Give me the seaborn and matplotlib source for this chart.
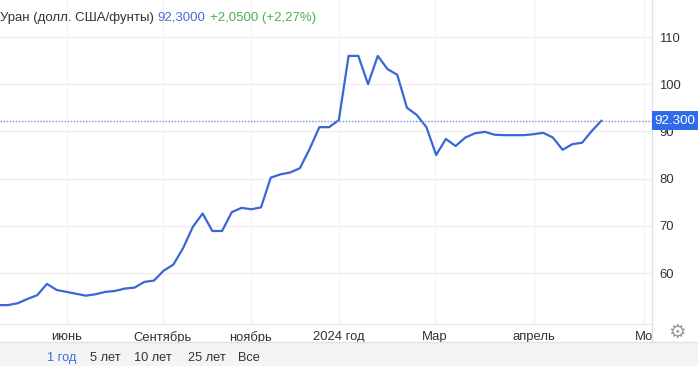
import matplotlib
matplotlib.use("Agg")
import matplotlib.pyplot as plt
from matplotlib.lines import Line2D
from matplotlib.patches import Rectangle
import seaborn as sns
import pandas as pd

# ---- data (weekly points) ----
prices = [53.2, 53.2, 53.6, 54.5, 55.3, 57.7, 56.4, 56.0, 55.6, 55.2,
          55.5, 56.0, 56.2, 56.7, 56.9, 58.1, 58.4, 60.5, 61.8, 65.3,
          69.8, 72.6, 68.9, 68.9, 72.9, 73.8, 73.5, 73.9, 80.2, 80.9,
          81.3, 82.2, 86.3, 90.9, 90.9, 92.4, 106.0, 106.0, 100.0, 106.0,
          103.2, 102.0, 95.0, 93.5, 90.9, 85.0, 88.4, 86.9, 88.7, 89.6,
          89.9, 89.3, 89.2, 89.2, 89.2, 89.4, 89.7, 88.7, 86.1, 87.3,
          87.6, 90.1, 92.3]
month_labels = ["июнь", "Сентябрь", "ноябрь", "2024 год", "Мар", "апрель", "Мо"]
month_pos = [7.05, 16.9, 25.95, 35.0, 44.85, 55.05, 66.4]
y_ticks = [60, 70, 80, 90, 100, 110]
last_price = 92.3
title = "Уран (долл. США/фунты)"
price_text = "92,3000"
change_text = "+2,0500 (+2,27%)"
ranges = ["1 год", "5 лет", "10 лет", "25 лет", "Все"]

df = pd.DataFrame({"week": range(len(prices)), "price": prices})

sns.set_style("white")
plt.rcParams["font.family"] = ["Liberation Sans", "DejaVu Sans"]

W, H = 698, 366
fig = plt.figure(figsize=(W / 100, H / 100), dpi=100)
ax = fig.add_axes([0, 42 / H, 652 / W, 324 / H])

line_col = "#3a66d6"
sns.lineplot(data=df, x="week", y="price", ax=ax, color=line_col, linewidth=1.6)

ax.set_xlim(0.175, 0.175 + 652 / 9.73)
ylo, yhi = 110 - 287 / 4.72, 110 + 37 / 4.72
ax.set_ylim(ylo, yhi)

ax.set_yticks(y_ticks)
ax.set_xticks(month_pos)
ax.set_xticklabels(month_labels)
ax.yaxis.tick_right()
ax.tick_params(axis="both", length=0, labelsize=9.4, colors="#333333")
ax.tick_params(axis="y", pad=5)
ax.tick_params(axis="x", pad=5)
for lab in ax.get_yticklabels():
    lab.set_horizontalalignment("left")
ax.set_xlabel("")
ax.set_ylabel("")

ax.grid(True, axis="y", color="#efefef", linewidth=1)
ax.grid(True, axis="x", color="#f2f3f8", linewidth=1)
for s in ["top", "left", "right"]:
    ax.spines[s].set_visible(False)
ax.spines["bottom"].set_color("#e8e8e8")
ax.spines["bottom"].set_linewidth(1)

# last price dotted line and label
ax.axhline(last_price, color="#6f90e6", linestyle=(0, (1, 1.2)), linewidth=1.0)
ypix = H - (42 + (last_price - ylo) / (yhi - ylo) * 324)
fig.add_artist(Rectangle((652 / W, 1 - (ypix + 9.5) / H), 46 / W, 19 / H,
                         transform=fig.transFigure, facecolor="#2f6be8",
                         edgecolor="none", zorder=6))
fig.text(675 / W, 1 - ypix / H, "92.300", ha="center", va="center",
         fontsize=9.6, color="white", zorder=7)

# right border line
fig.add_artist(Line2D([652 / W, 652 / W], [24 / H, 1], color="#e3e3e3", linewidth=1))

# header
t1 = fig.text(0.0, 1 - 18 / H, title, fontsize=9.5, color="#333333", va="center", ha="left")
fig.canvas.draw()
r = fig.canvas.get_renderer()
bb = t1.get_window_extent(r)
t2 = fig.text(bb.x1 / W + 4 / W, 1 - 18 / H, price_text, fontsize=9.5, color="#4a6ad8",
              va="center", ha="left")
bb2 = t2.get_window_extent(r)
fig.text(bb2.x1 / W + 4 / W, 1 - 18 / H, change_text, fontsize=9.5, color="#4caf50",
         va="center", ha="left")

# bottom range band
fig.add_artist(Rectangle((0, 0), 1, 24 / H, transform=fig.transFigure,
                         facecolor="#f4f4f4", edgecolor="none"))
fig.add_artist(Line2D([0, 1], [24 / H, 24 / H], color="#e2e2e2", linewidth=1))
range_x = [47, 90, 134, 188, 238]
for i, (lab, x) in enumerate(zip(ranges, range_x)):
    fig.text(x / W, 8 / H, lab, fontsize=9.2, ha="left", va="center",
             color="#3d6ce0" if i == 0 else "#333333")

# gear icon
fig.text(677 / W, 1 - 332 / H, "⚙", fontsize=14, ha="center", va="center",
         color="#9a9a9a", family="DejaVu Sans")

fig.savefig("out.png", dpi=100)
